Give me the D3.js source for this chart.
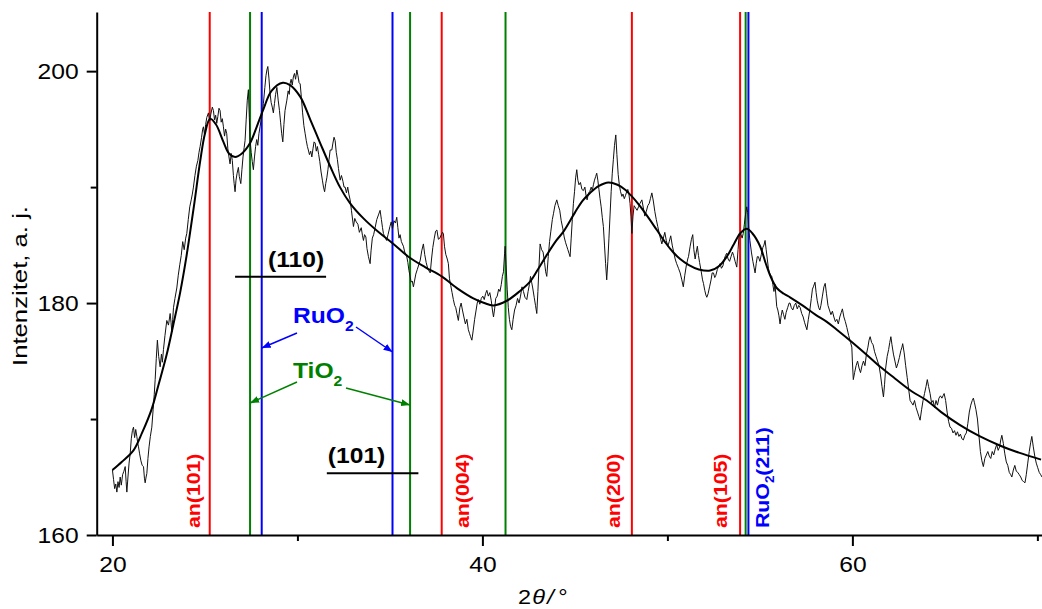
<!DOCTYPE html>
<html><head><meta charset="utf-8">
<script src="https://cdn.jsdelivr.net/npm/d3@7"></script>
<style>
body{margin:0;background:#fff}
svg{display:block}
text{font-family:"Liberation Sans",Arial,sans-serif}
</style>
</head><body>
<svg id="chart" width="1042" height="609"></svg>
<script>
// Measured XRD scan: [2θ (°), intensity (a. j.)]
const scanProfile = [
[20.00,165.6],[20.06,164.8],[20.12,164.0],[20.18,164.4],[20.24,163.7],[20.30,164.6],[20.36,164.1],[20.42,165.0],[20.48,164.3],[20.55,165.2],
[20.62,165.5],[20.69,165.9],[20.74,164.6],[20.78,163.7],[20.84,165.0],[20.90,166.2],[20.96,167.0],[21.02,168.3],[21.08,169.0],[21.14,169.3],
[21.20,168.4],[21.26,169.1],[21.32,168.5],[21.37,167.9],[21.41,167.6],[21.47,167.0],[21.54,166.4],[21.61,166.0],[21.68,165.9],[21.73,164.9],
[21.77,164.5],[21.82,165.0],[21.86,165.3],[21.92,166.6],[21.98,167.6],[22.05,168.5],[22.13,169.3],[22.20,170.8],[22.26,172.1],[22.31,173.4],
[22.37,175.2],[22.43,176.8],[22.50,175.4],[22.58,174.5],[22.65,175.6],[22.70,174.9],[22.76,176.0],[22.84,177.2],[22.94,178.5],[23.03,178.1],
[23.12,179.1],[23.17,178.3],[23.21,177.5],[23.26,178.6],[23.30,179.6],[23.38,180.4],[23.48,181.3],[23.56,182.4],[23.64,183.3],[23.72,184.1],
[23.80,185.3],[23.88,184.6],[23.96,185.6],[24.02,186.0],[24.10,187.2],[24.18,188.3],[24.26,188.9],[24.32,189.4],[24.38,190.0],[24.46,191.0],
[24.54,191.8],[24.62,192.3],[24.68,193.0],[24.74,193.5],[24.82,194.3],[24.88,195.0],[24.92,195.2],[24.98,194.5],[25.04,195.4],[25.10,196.0],
[25.19,196.4],[25.26,195.7],[25.32,196.3],[25.40,196.9],[25.46,196.6],[25.52,195.8],[25.58,196.2],[25.64,195.5],[25.70,196.1],[25.76,196.8],
[25.82,196.6],[25.88,195.6],[25.94,195.9],[26.00,195.2],[26.06,194.4],[26.12,195.0],[26.18,194.6],[26.24,193.3],[26.30,192.6],[26.36,192.0],
[26.42,192.9],[26.48,192.3],[26.54,191.0],[26.58,190.3],[26.63,189.6],[26.68,190.6],[26.74,191.2],[26.81,191.7],[26.86,190.9],[26.90,190.6],
[26.94,190.3],[27.00,191.5],[27.06,192.6],[27.12,193.4],[27.17,194.0],[27.23,195.8],[27.29,197.5],[27.35,198.4],[27.40,196.0],[27.44,194.1],
[27.50,193.0],[27.56,192.2],[27.62,191.5],[27.68,192.6],[27.74,193.5],[27.80,194.1],[27.86,193.6],[27.92,194.6],[27.98,195.2],[28.04,195.8],
[28.10,196.3],[28.16,197.2],[28.24,198.6],[28.30,199.6],[28.35,200.1],[28.40,200.4],[28.46,199.4],[28.52,198.1],[28.58,197.3],[28.64,196.9],
[28.70,196.4],[28.76,197.2],[28.82,198.0],[28.89,198.6],[28.96,197.5],[29.03,196.6],[29.09,195.6],[29.15,194.6],[29.21,193.9],[29.27,195.4],
[29.33,196.6],[29.43,197.5],[29.50,198.3],[29.56,198.0],[29.60,198.9],[29.66,199.3],[29.72,198.8],[29.78,199.5],[29.84,199.8],[29.90,199.3],
[29.97,200.1],[30.03,199.6],[30.09,199.0],[30.15,198.9],[30.21,197.8],[30.28,196.4],[30.35,195.3],[30.42,194.6],[30.48,194.0],[30.54,193.5],
[30.59,193.2],[30.65,192.8],[30.72,193.1],[30.78,192.6],[30.84,193.3],[30.90,193.9],[30.96,193.8],[31.02,193.1],[31.08,193.5],[31.15,192.8],
[31.21,192.2],[31.28,191.3],[31.35,190.6],[31.41,190.0],[31.47,189.6],[31.53,190.3],[31.59,190.8],[31.65,191.5],[31.71,192.4],[31.77,193.2],
[31.86,193.2],[31.92,193.8],[31.98,194.3],[32.04,194.0],[32.10,193.0],[32.16,192.4],[32.22,191.6],[32.31,190.6],[32.38,191.0],[32.46,190.5],
[32.52,190.0],[32.58,190.0],[32.65,189.5],[32.72,190.0],[32.78,189.4],[32.85,188.9],[32.92,188.0],[33.03,186.6],[33.10,187.3],[33.18,187.0],
[33.27,186.8],[33.35,186.1],[33.45,186.5],[33.52,185.8],[33.57,185.4],[33.63,185.9],[33.70,185.7],[33.76,184.7],[33.84,184.0],[33.93,183.4],
[33.98,184.5],[34.05,185.6],[34.12,185.9],[34.20,186.5],[34.29,187.2],[34.38,187.6],[34.47,188.0],[34.54,187.2],[34.60,186.5],[34.65,186.0],
[34.72,185.7],[34.82,185.4],[34.90,185.9],[35.00,186.6],[35.07,187.0],[35.14,186.4],[35.22,187.1],[35.30,186.9],[35.37,187.4],[35.43,186.5],
[35.49,185.6],[35.55,185.9],[35.62,185.3],[35.73,184.9],[35.80,184.4],[35.90,184.1],[35.97,183.5],[36.03,182.8],[36.09,182.3],[36.15,181.8],
[36.21,181.9],[36.27,181.4],[36.33,181.9],[36.40,182.5],[36.48,182.9],[36.56,183.3],[36.64,183.7],[36.72,184.5],[36.81,185.1],[36.88,184.2],
[36.96,183.5],[37.04,183.0],[37.10,182.8],[37.18,182.6],[37.25,183.8],[37.32,184.8],[37.40,185.6],[37.47,186.2],[37.54,186.3],[37.62,185.5],
[37.70,185.6],[37.78,185.9],[37.85,186.1],[37.89,186.0],[37.95,184.9],[38.02,184.2],[38.10,183.8],[38.16,183.4],[38.22,182.1],[38.29,181.5],
[38.36,180.9],[38.43,180.3],[38.50,179.8],[38.56,179.6],[38.62,179.1],[38.70,178.5],[38.78,179.6],[38.85,180.0],[38.92,179.4],[39.00,178.8],
[39.08,178.2],[39.16,178.6],[39.24,177.7],[39.30,177.4],[39.36,177.1],[39.43,176.8],[39.50,177.6],[39.58,178.6],[39.66,179.4],[39.72,180.0],
[39.78,180.3],[39.86,179.9],[39.94,180.4],[40.02,180.6],[40.10,180.3],[40.17,180.8],[40.24,181.1],[40.32,180.6],[40.40,180.9],[40.48,180.2],
[40.54,179.4],[40.60,178.8],[40.66,179.5],[40.72,180.4],[40.80,180.6],[40.88,181.2],[40.95,181.0],[41.02,181.6],[41.08,182.3],[41.14,182.7],
[41.20,184.3],[41.23,184.9],[41.28,183.3],[41.34,181.2],[41.40,179.6],[41.46,178.6],[41.52,178.0],[41.59,177.7],[41.66,178.6],[41.74,179.4],
[41.82,179.8],[41.90,180.4],[41.98,180.0],[42.06,180.6],[42.14,181.4],[42.22,181.0],[42.30,180.5],[42.40,180.3],[42.47,181.0],[42.54,181.6],
[42.60,182.3],[42.66,181.8],[42.72,181.3],[42.80,180.5],[42.87,179.8],[42.94,179.1],[43.00,181.0],[43.06,183.2],[43.12,185.1],[43.20,184.6],
[43.28,184.4],[43.36,183.5],[43.42,182.7],[43.48,182.3],[43.56,184.0],[43.63,185.3],[43.70,186.2],[43.78,187.2],[43.84,187.7],[43.92,188.4],
[44.02,188.9],[44.10,188.4],[44.18,188.0],[44.26,187.1],[44.35,186.4],[44.42,185.7],[44.50,185.2],[44.56,184.9],[44.62,184.6],[44.68,184.3],
[44.74,184.0],[44.80,185.6],[44.86,187.2],[44.92,188.6],[44.98,189.6],[45.04,190.8],[45.10,191.5],[45.16,190.6],[45.22,190.2],[45.30,190.4],
[45.38,189.8],[45.46,189.7],[45.54,190.0],[45.60,189.3],[45.66,188.9],[45.74,189.5],[45.80,189.6],[45.88,190.0],[45.94,189.7],[46.00,190.2],
[46.06,190.6],[46.12,190.9],[46.18,191.2],[46.24,190.6],[46.30,189.8],[46.36,189.0],[46.42,188.3],[46.48,187.4],[46.54,186.6],[46.60,185.0],
[46.66,183.4],[46.72,182.0],[46.78,183.6],[46.84,185.6],[46.90,187.6],[46.96,189.6],[47.02,191.2],[47.08,192.4],[47.14,193.6],[47.21,194.5],
[47.27,192.8],[47.34,191.1],[47.40,190.2],[47.47,189.6],[47.54,189.2],[47.60,189.4],[47.67,189.0],[47.74,189.3],[47.80,189.6],[47.86,189.8],
[47.92,189.4],[47.98,188.6],[48.03,187.5],[48.08,186.0],[48.14,187.5],[48.20,188.4],[48.28,188.2],[48.36,188.0],[48.44,188.3],[48.52,188.6],
[48.62,188.9],[48.70,188.2],[48.78,187.5],[48.86,187.9],[48.94,188.4],[49.02,188.6],[49.08,189.0],[49.16,189.5],[49.24,188.8],[49.32,187.9],
[49.40,187.2],[49.48,186.6],[49.56,186.0],[49.62,185.6],[49.70,185.1],[49.78,185.6],[49.86,186.1],[49.94,185.4],[50.02,184.9],[50.10,185.3],
[50.18,185.8],[50.26,185.0],[50.34,184.4],[50.42,183.8],[50.50,183.4],[50.60,183.0],[50.69,182.6],[50.78,182.0],[50.86,181.4],[50.94,182.4],
[51.02,183.2],[51.10,183.8],[51.14,184.0],[51.23,184.9],[51.30,185.5],[51.37,185.9],[51.43,184.6],[51.50,183.8],[51.56,184.4],[51.62,184.9],
[51.68,184.1],[51.74,183.5],[51.82,182.8],[51.90,182.0],[51.95,181.7],[52.02,181.1],[52.08,180.7],[52.13,180.5],[52.20,180.8],[52.28,181.4],
[52.36,182.0],[52.42,182.6],[52.49,182.6],[52.56,182.2],[52.62,182.4],[52.70,182.9],[52.78,183.2],[52.85,183.4],[52.92,183.0],[53.00,183.2],
[53.08,183.8],[53.14,184.1],[53.21,184.3],[53.28,183.8],[53.36,183.6],[53.44,184.0],[53.52,184.4],[53.58,184.1],[53.66,183.6],[53.75,183.1],
[53.82,184.6],[53.88,186.0],[53.96,186.0],[54.04,185.6],[54.10,186.0],[54.16,186.8],[54.22,187.6],[54.29,188.3],[54.34,187.8],[54.40,186.4],
[54.46,185.4],[54.54,184.4],[54.62,183.6],[54.68,183.1],[54.74,182.6],[54.80,183.4],[54.86,184.0],[54.92,184.0],[55.00,183.6],[55.08,184.2],
[55.16,184.8],[55.22,185.0],[55.28,185.4],[55.34,184.6],[55.40,183.8],[55.46,183.0],[55.52,182.6],[55.58,182.4],[55.64,182.3],[55.70,181.6],
[55.76,181.0],[55.82,181.6],[55.91,179.7],[55.97,179.4],[56.03,178.9],[56.09,178.2],[56.15,178.9],[56.21,179.4],[56.28,179.0],[56.35,178.6],
[56.42,179.2],[56.50,179.6],[56.58,180.0],[56.63,180.0],[56.70,179.6],[56.78,179.4],[56.86,179.8],[56.94,180.0],[57.02,179.5],[57.10,179.8],
[57.18,179.6],[57.26,179.1],[57.34,178.8],[57.42,178.3],[57.54,177.7],[57.62,178.6],[57.70,179.4],[57.78,180.4],[57.84,181.2],[57.89,181.4],
[57.98,181.8],[58.04,180.9],[58.10,180.2],[58.18,179.6],[58.24,179.4],[58.30,179.8],[58.38,180.6],[58.46,181.4],[58.53,181.7],[58.60,180.8],
[58.68,179.8],[58.76,179.4],[58.84,179.0],[58.92,179.3],[59.00,178.8],[59.08,178.4],[59.16,178.6],[59.24,178.2],[59.32,178.8],[59.40,179.2],
[59.46,179.5],[59.54,178.8],[59.62,178.4],[59.70,177.9],[59.80,177.2],[59.90,176.6],[59.97,176.2],[60.00,175.0],[60.05,173.4],[60.12,174.0],
[60.20,174.6],[60.28,175.0],[60.36,174.4],[60.44,174.0],[60.52,174.6],[60.60,175.0],[60.68,174.6],[60.76,175.6],[60.84,176.2],[60.90,176.8],
[60.96,177.1],[61.04,176.6],[61.12,176.4],[61.20,175.8],[61.28,175.4],[61.36,175.0],[61.44,174.6],[61.52,173.8],[61.60,172.8],[61.68,171.9],
[61.74,173.0],[61.80,174.4],[61.88,175.4],[61.96,176.0],[62.02,176.6],[62.08,177.1],[62.14,176.4],[62.22,175.6],[62.30,175.0],[62.38,174.4],
[62.46,174.8],[62.54,175.3],[62.62,175.9],[62.68,176.2],[62.72,176.5],[62.80,175.7],[62.88,174.6],[62.96,173.6],[63.04,172.6],[63.12,171.6],
[63.20,171.4],[63.28,171.2],[63.36,171.6],[63.44,171.0],[63.52,170.6],[63.60,170.2],[63.66,169.9],[63.74,170.8],[63.82,171.6],[63.90,172.2],
[63.98,172.8],[64.05,173.4],[64.12,172.8],[64.20,172.2],[64.28,171.4],[64.36,171.6],[64.44,171.0],[64.52,171.6],[64.60,171.2],[64.68,171.8],
[64.76,172.0],[64.84,171.8],[64.90,172.0],[64.96,172.2],[65.04,171.6],[65.12,170.6],[65.20,169.8],[65.28,169.3],[65.36,169.2],[65.44,168.8],
[65.52,169.0],[65.60,168.6],[65.68,168.9],[65.76,168.5],[65.84,168.7],[65.92,168.3],[66.00,168.2],[66.08,168.6],[66.16,168.8],[66.24,169.6],
[66.32,170.6],[66.40,171.2],[66.48,171.6],[66.54,171.8],[66.60,171.4],[66.68,170.8],[66.76,170.0],[66.84,168.6],[66.92,167.2],[67.00,166.4],
[67.08,165.9],[67.16,166.6],[67.24,166.9],[67.32,167.2],[67.40,166.8],[67.48,166.6],[67.56,167.2],[67.64,166.9],[67.72,167.4],[67.80,167.8],
[67.88,167.3],[67.96,167.6],[68.02,168.2],[68.08,168.6],[68.16,167.9],[68.24,167.0],[68.32,166.3],[68.40,166.0],[68.48,165.4],[68.56,165.2],
[68.62,165.0],[68.70,165.6],[68.78,166.0],[68.86,165.5],[68.94,165.4],[69.02,165.2],[69.10,165.0],[69.18,164.7],[69.26,164.6],[69.33,164.5],
[69.40,165.2],[69.48,166.2],[69.56,167.2],[69.64,168.0],[69.70,168.5],[69.78,167.6],[69.86,166.8],[69.94,166.2],[70.02,165.8],[70.10,165.4],
[70.18,165.2],[70.25,165.0]
];

// Fitted profile (sum of peaks + background): [2θ, intensity]
const fitProfile = [
[20.0,165.6],[20.5,166.3],[21.14,167.3],[21.6,168.8],[22.13,170.9],[22.5,173.0],[22.94,175.6],[23.3,178.2],[23.66,180.9],[24.0,184.0],
[24.4,188.3],[24.75,192.3],[25.0,194.6],[25.28,195.9],[25.6,195.4],[26.0,193.9],[26.3,192.9],[26.63,192.6],[27.0,192.9],[27.44,193.8],
[27.8,195.2],[28.16,196.7],[28.6,198.3],[29.21,199.0],[29.6,198.8],[30.15,197.8],[30.7,195.8],[31.23,193.8],[31.77,191.8],[32.3,190.0],
[32.85,188.6],[33.57,187.3],[34.4,186.1],[35.19,185.1],[36.0,184.0],[36.9,183.1],[37.8,182.3],[38.7,181.2],[39.51,180.4],[40.1,180.0],
[40.6,179.8],[41.32,180.2],[42.0,181.0],[42.6,181.9],[43.0,182.9],[43.5,184.2],[44.0,185.4],[44.4,186.2],[45.0,187.8],[45.4,188.8],
[45.82,189.5],[46.3,190.1],[46.81,190.4],[47.3,190.2],[47.7,189.8],[48.08,189.2],[48.5,188.4],[49.0,187.3],[49.43,186.3],[49.9,185.2],
[50.3,184.4],[50.69,183.8],[51.14,183.3],[51.7,182.9],[52.31,182.8],[52.8,183.2],[53.21,184.0],[53.6,185.1],[53.93,186.0],[54.29,186.4],
[54.6,186.0],[55.01,184.9],[55.3,183.5],[55.55,182.4],[55.91,181.3],[56.3,180.8],[56.63,180.5],[57.3,179.8],[58.0,179.0],[58.6,178.4],
[59.16,177.7],[60.0,176.6],[60.8,175.5],[61.5,174.5],[62.3,173.5],[63.2,172.4],[64.02,171.6],[64.8,170.6],[65.8,169.5],[66.9,168.5],
[68.0,167.7],[69.0,167.1],[70.2,166.5]
];

// Reference reflection positions, 2θ (°)
const anataseLines = [25.26, 37.80, 48.08, 53.93];
const anataseLabels = ["(101)", "(004)", "(200)", "(105)"];
const rutileTiO2Lines = [27.44, 36.09, 41.25, 54.23];
const rutileRuO2Lines = [28.07, 35.14, 54.38];

// Axis ticks
const yMajorTicks = [160, 180, 200];
const yMinorTicks = [170, 190];
const xMajorTicks = [20, 40, 60];
const xMinorTicks = [30, 50, 70];

// Bracketed (hkl) spans of the rutile doublets, 2θ (°)
const hklSpans = [{hkl: "(110)", from: 26.63, to: 31.55}, {hkl: "(101)", from: 31.59, to: 36.54}];

const RED = "#ff0000", GREEN = "#008000", BLUE = "#0000ff";
const svg = d3.select("#chart");
const x = d3.scaleLinear().domain([19.15, 70.25]).range([96.7, 1042]);
const y = d3.scaleLinear().domain([160, 205.1]).range([535, 12]);
const TXT_K = 1.12;   // horizontal glyph stretch used for all labels

// reference lines
function refLines(vals, color) {
  svg.append("g").selectAll("line").data(vals).join("line")
    .attr("x1", d => x(d)).attr("x2", d => x(d))
    .attr("y1", y.range()[1]).attr("y2", y.range()[0])
    .attr("stroke", color).attr("stroke-width", 2);
}
refLines(anataseLines, RED);
refLines(rutileTiO2Lines, GREEN);
refLines(rutileRuO2Lines, BLUE);

// measured scan and fit
svg.append("path").datum(scanProfile)
  .attr("d", d3.line().x(d => x(d[0])).y(d => y(d[1])))
  .attr("fill", "none").attr("stroke", "#111").attr("stroke-width", 1)
  .attr("stroke-linejoin", "round");
svg.append("path").datum(fitProfile)
  .attr("d", d3.line().curve(d3.curveCatmullRom.alpha(0.5)).x(d => x(d[0])).y(d => y(d[1])))
  .attr("fill", "none").attr("stroke", "#000").attr("stroke-width", 2);

// axes
function styleAxis(g) {
  g.selectAll("path.domain").attr("stroke", "#000").attr("stroke-width", 2);
  g.selectAll(".tick line").attr("stroke", "#000").attr("stroke-width", 2);
  g.selectAll("text").attr("font-size", 22).attr("fill", "#000")
    .style("font-family", '"Liberation Sans",Arial,sans-serif');
}
const yAxisG = svg.append("g").attr("transform", `translate(${x.range()[0]},0)`)
  .call(d3.axisLeft(y).tickValues(yMajorTicks).tickSize(10).tickSizeOuter(0).tickPadding(8).tickFormat(d3.format("d")));
styleAxis(yAxisG);
yAxisG.selectAll(".tick text").each(function () {
  const t = d3.select(this), tx = +t.attr("x");
  t.attr("x", 0).attr("transform", `translate(${tx},0) scale(${TXT_K},1)`);
});
svg.append("g").attr("transform", `translate(${x.range()[0]},0)`)
  .call(d3.axisLeft(y).tickValues(yMinorTicks).tickSize(6).tickSizeOuter(0).tickFormat(""))
  .call(g => { g.select("path.domain").remove(); g.selectAll(".tick line").attr("stroke", "#000").attr("stroke-width", 2); });

const xAxisG = svg.append("g").attr("transform", `translate(0,${y.range()[0]})`)
  .call(d3.axisBottom(x).tickValues(xMajorTicks).tickSize(11).tickSizeOuter(0).tickPadding(10).tickFormat(d3.format("d")));
styleAxis(xAxisG);
xAxisG.selectAll(".tick text").attr("transform", `scale(${TXT_K},1)`).attr("x", 0);
svg.append("g").attr("transform", `translate(0,${y.range()[0]})`)
  .call(d3.axisBottom(x).tickValues(xMinorTicks).tickSize(6).tickSizeOuter(0).tickFormat(""))
  .call(g => { g.select("path.domain").remove(); g.selectAll(".tick line").attr("stroke", "#000").attr("stroke-width", 2); });

// axis titles
svg.append("text")
  .attr("transform", "translate(27,366) rotate(-90)")
  .attr("font-size", 20).attr("textLength", 160).attr("lengthAdjust", "spacingAndGlyphs")
  .text("Intenzitet, a. j.");
const xt = svg.append("text").attr("transform", `translate(518,604) scale(${TXT_K},1)`).attr("font-size", 21);
xt.append("tspan").text("2");
xt.append("tspan").attr("font-style", "italic").attr("dx", 1).text("θ");
xt.append("tspan").attr("font-style", "italic").attr("dx", 2).text("/");
xt.append("tspan").attr("dx", 4).text("°");

// vertical peak labels
function vLabel(px, parts, color) {
  const g = svg.append("g").attr("transform", `translate(${px},528) rotate(-90) scale(${TXT_K},1)`);
  const t = g.append("text").attr("fill", color).attr("font-size", 19).attr("font-weight", "bold");
  parts.forEach(p => {
    const s = t.append("tspan").text(p.s);
    if (p.sub) s.attr("font-size", 12).attr("dy", 5);
    if (p.up) s.attr("dy", -5);
  });
}
const anatOffsets = [-10, 27, -12, -13];
anataseLines.forEach((v, i) => vLabel(x(v) + anatOffsets[i], [{s: "an" + anataseLabels[i]}], RED));
vLabel(x(rutileRuO2Lines[2]) + 21, [{s: "RuO"}, {s: "2", sub: true}, {s: "(211)", up: true}], BLUE);

// (hkl) brackets
hklSpans.forEach((h, i) => {
  const yy = i === 0 ? 276.7 : 473.3;
  svg.append("line").attr("x1", x(h.from)).attr("x2", x(h.to)).attr("y1", yy).attr("y2", yy)
    .attr("stroke", "#000").attr("stroke-width", 2);
  svg.append("text")
    .attr("transform", `translate(${x(h.from) + (i === 0 ? 33 : 1)},${yy - 10}) scale(${TXT_K},1)`)
    .attr("font-size", 22).attr("font-weight", "bold").text(h.hkl);
});

// phase labels with arrows
const defs = svg.append("defs");
[["blue", BLUE], ["green", GREEN]].forEach(([id, c]) => {
  defs.append("marker").attr("id", "arr-" + id).attr("markerUnits", "userSpaceOnUse")
    .attr("markerWidth", 9).attr("markerHeight", 7).attr("refX", 9).attr("refY", 3.5).attr("orient", "auto")
    .append("path").attr("d", "M0,0 L9,3.5 L0,7 Z").attr("fill", c);
});
function phaseLabel(text, px, py, color) {
  const t = svg.append("text").attr("transform", `translate(${px},${py}) scale(${TXT_K},1)`).attr("fill", color)
    .attr("font-size", 22).attr("font-weight", "bold");
  t.append("tspan").text(text);
  t.append("tspan").attr("font-size", 14).attr("dy", 8).text("2");
}
phaseLabel("RuO", 293, 323, BLUE);
phaseLabel("TiO", 293, 378, GREEN);
function arrow(x1, y1, target, y2, color, id) {
  svg.append("line").attr("x1", x1).attr("y1", y1).attr("x2", x(target)).attr("y2", y2)
    .attr("stroke", color).attr("stroke-width", 1.5).attr("marker-end", `url(#arr-${id})`);
}
arrow(297, 333, rutileRuO2Lines[0], 348, BLUE, "blue");
arrow(356, 327, rutileRuO2Lines[1], 352, BLUE, "blue");
arrow(297, 382, rutileTiO2Lines[0], 403, GREEN, "green");
arrow(346, 388, rutileTiO2Lines[1], 405, GREEN, "green");
</script>
</body></html>
